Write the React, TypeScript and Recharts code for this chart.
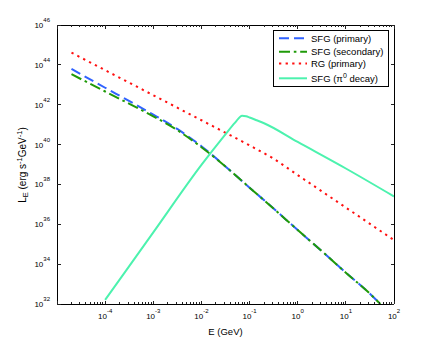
import React from 'react';
import { LineChart, Line, XAxis, YAxis, Legend } from 'recharts';

const W = 436;
const H = 343;
const FONT = '"Liberation Sans", Arial, Helvetica, sans-serif';

// ---- data (E in GeV, L_E in erg s^-1 GeV^-1) ----
const sfgPrimaryE = [2e-5, 1e-4, 3.2e-4, 1e-3, 3.2e-3, 1e-2, 3.2e-2, 0.1, 0.32, 1, 3.2, 10, 32, 52];
const sfgPrimaryL = [6.2e43, 7.1e42, 1.5e42, 3.2e41, 5.9e40, 8.3e39, 7.8e38, 6.9e37, 6.0e36, 5.1e35, 4.4e34, 3.7e33, 3.2e32, 1.0e32];

const sfgSecondaryE = [2e-5, 1e-4, 3.2e-4, 1e-3, 3.2e-3, 1e-2, 3.2e-2, 0.1, 0.32, 1, 3.2, 10, 32, 52];
const sfgSecondaryL = [3.4e43, 4.6e42, 1.1e42, 2.6e41, 5.2e40, 7.4e39, 7.8e38, 6.9e37, 6.0e36, 5.1e35, 4.4e34, 3.7e33, 3.2e32, 1.0e32];

const rgE = [2e-5, 1e-4, 1e-3, 1e-2, 0.1, 0.3, 1, 10, 100];
const rgL = [4.1e44, 5.4e43, 3.0e42, 1.66e41, 9.1e39, 2.1e39, 2.95e38, 6.9e36, 1.6e35];

const piE = [1e-4, 1e-3, 1e-2, 3e-2, 5e-2, 7e-2, 8.5e-2, 0.1, 0.14, 0.2, 1, 10, 100];
const piL = [1.6e32, 3.9e35, 9.5e38, 2.8e40, 1.26e41, 2.82e41, 2.63e41, 2.29e41, 1.66e41, 1.17e41, 1.35e40, 6.3e38, 2.5e37];

const seriesNames = ['SFG (primary)', 'SFG (secondary)', 'RG (primary)', 'SFG (\u03c0'];

// ---- ticks ----
const xDomain = [1e-5, 1e2];
const yDomain = [1e32, 1e46];
const xTicks: number[] = [];
for (let k = -5; k <= 1; k++) {
  for (let m = 1; m <= 9; m++) xTicks.push(m * Math.pow(10, k));
}
xTicks.push(100);
const yTicks = [1e32, 1e34, 1e36, 1e38, 1e40, 1e42, 1e44, 1e46];

const toData = (es: number[], ls: number[]) => es.map((E, i) => ({ E, L: ls[i] }));
const sfgPrimary = toData(sfgPrimaryE, sfgPrimaryL);
const sfgSecondary = toData(sfgSecondaryE, sfgSecondaryL);
const rg = toData(rgE, rgL);
const pi = toData(piE, piL);

const COLORS = {
  blue: '#3062ff',
  green: '#1f9a08',
  red: '#ff1010',
  cyan: '#4cf2ae',
};
const DASH = {
  blue: '10 5',
  green: '11 3.8 2.6 3.8',
  red: '2.3 4.3',
};

const isMajor = (v: number) => {
  const l = Math.log10(v);
  return Math.abs(l - Math.round(l)) < 1e-6;
};
const expOf = (v: number) => String(Math.round(Math.log10(v)));

const MAJ = 3.5;
const MIN = 2;
const TICK_STROKE = '#222';
const AXIS_LINE = { stroke: '#000', strokeWidth: 1, shapeRendering: 'crispEdges' };

const BottomTick = (p: any) => {
  const { x, y, payload } = p;
  const v = payload.value;
  const major = isMajor(v);
  const e = Math.round(Math.log10(v));
  return (
    <g>
      <line x1={x} x2={x} y1={y} y2={y - (major ? MAJ : MIN)} stroke={TICK_STROKE} strokeWidth={1} shapeRendering="crispEdges" />
      {major && e > -5 ? (
        <text x={x} y={y + 15} textAnchor="middle" fontFamily={FONT} fontSize={8} fill="#000">
          <tspan>10</tspan>
          <tspan dy={-6} fontSize={6}>{expOf(v)}</tspan>
        </text>
      ) : null}
    </g>
  );
};

const TopTick = (p: any) => {
  const { x, y, payload } = p;
  const major = isMajor(payload.value);
  return <line x1={x} x2={x} y1={y} y2={y + (major ? MAJ : MIN)} stroke={TICK_STROKE} strokeWidth={1} shapeRendering="crispEdges" />;
};

const LeftTick = (p: any) => {
  const { x, y, payload } = p;
  return (
    <g>
      <line x1={x} x2={x + MAJ} y1={y} y2={y} stroke={TICK_STROKE} strokeWidth={1} shapeRendering="crispEdges" />
      <text x={x - 7} y={y + 3} textAnchor="end" fontFamily={FONT} fontSize={8} fill="#000">
        <tspan>10</tspan>
        <tspan dy={-6} fontSize={6}>{expOf(payload.value)}</tspan>
      </text>
    </g>
  );
};

const RightTick = (p: any) => {
  const { x, y } = p;
  return <line x1={x} x2={x - MAJ} y1={y} y2={y} stroke={TICK_STROKE} strokeWidth={1} shapeRendering="crispEdges" />;
};

const YTitle = (props: any) => {
  const vb = props.viewBox || { x: 0, y: 25, width: 57, height: 279 };
  const cx = vb.x + 25.8;
  const cy = vb.y + vb.height / 2 + 0.5;
  return (
    <text transform={`translate(${cx},${cy}) rotate(-90)`} textAnchor="middle" fontFamily={FONT} fontSize={10} fill="#000">
      <tspan>L</tspan>
      <tspan dy={2.5} fontSize={7.5}>E</tspan>
      <tspan dy={-2.5}> (erg s</tspan>
      <tspan dy={-4} fontSize={7.5}>-1</tspan>
      <tspan dy={4}>GeV</tspan>
      <tspan dy={-4} fontSize={7.5}>-1</tspan>
      <tspan dy={4}>)</tspan>
    </text>
  );
};

const LegendBox = () => {
  const rows = [8.3, 21.7, 33.5, 48.3];
  const styles = [
    { c: COLORS.blue, d: DASH.blue },
    { c: COLORS.green, d: DASH.green },
    { c: COLORS.red, d: DASH.red },
    { c: COLORS.cyan, d: undefined },
  ];
  return (
    <svg width={117} height={58} style={{ display: 'block' }}>
      <rect x={0.5} y={0.5} width={115} height={56} fill="#fff" stroke="#000" strokeWidth={1} />
      {rows.map((ry, i) => (
        <g key={i}>
          <line x1={6} x2={34} y1={ry} y2={ry} stroke={styles[i].c} strokeWidth={2} strokeDasharray={styles[i].d} />
          <text x={38} y={ry + 3.4} fontFamily={FONT} fontSize={9.5} fill="#000">
            {i < 3 ? (
              seriesNames[i]
            ) : (
              <>
                <tspan>{seriesNames[3]}</tspan>
                <tspan dy={-4} fontSize={7}>0</tspan>
                <tspan dy={4}> decay)</tspan>
              </>
            )}
          </text>
        </g>
      ))}
    </svg>
  );
};

export default function App() {
  return (
    <div style={{ position: 'absolute', left: 0, top: 0, width: W, height: H, background: '#fff' }}>
      <LineChart width={W} height={H} margin={{ top: 24, right: 41, bottom: 0, left: 0 }}>
        <XAxis
          xAxisId="b"
          type="number"
          dataKey="E"
          scale="log"
          domain={xDomain}
          allowDataOverflow
          ticks={xTicks}
          interval={0}
          tickSize={0}
          tickMargin={0}
          height={39}
          tick={<BottomTick />}
          axisLine={AXIS_LINE}
          tickLine={false}
          label={{ value: 'E (GeV)', position: 'insideBottom', offset: 8, fontSize: 9.5, fill: '#000', fontFamily: FONT }}
        />
        <XAxis
          xAxisId="t"
          orientation="top"
          type="number"
          dataKey="E"
          scale="log"
          domain={xDomain}
          allowDataOverflow
          ticks={xTicks}
          interval={0}
          tickSize={0}
          tickMargin={0}
          height={1}
          tick={<TopTick />}
          axisLine={AXIS_LINE}
          tickLine={false}
        />
        <YAxis
          yAxisId="l"
          type="number"
          scale="log"
          domain={yDomain}
          allowDataOverflow
          ticks={yTicks}
          interval={0}
          tickSize={0}
          tickMargin={0}
          width={57}
          tick={<LeftTick />}
          axisLine={AXIS_LINE}
          tickLine={false}
          label={{ content: (p: any) => <YTitle {...p} /> }}
        />
        <YAxis
          yAxisId="r"
          orientation="right"
          type="number"
          scale="log"
          domain={yDomain}
          allowDataOverflow
          ticks={yTicks}
          interval={0}
          tickSize={0}
          tickMargin={0}
          width={1}
          tick={<RightTick />}
          axisLine={AXIS_LINE}
          tickLine={false}
        />
        <Line xAxisId="b" yAxisId="l" data={sfgPrimary} dataKey="L" name={seriesNames[0]} type="monotone"
          stroke={COLORS.blue} strokeWidth={2} strokeDasharray={DASH.blue} dot={false} isAnimationActive={false} />
        <Line xAxisId="b" yAxisId="l" data={sfgSecondary} dataKey="L" name={seriesNames[1]} type="monotone"
          stroke={COLORS.green} strokeWidth={2} strokeDasharray={DASH.green} dot={false} isAnimationActive={false} />
        <Line xAxisId="b" yAxisId="l" data={rg} dataKey="L" name={seriesNames[2]} type="monotone"
          stroke={COLORS.red} strokeWidth={2} strokeDasharray={DASH.red} dot={false} isAnimationActive={false} />
        <Line xAxisId="b" yAxisId="l" data={pi} dataKey="L" name="SFG (pi0 decay)" type="monotone"
          stroke={COLORS.cyan} strokeWidth={2} dot={false} isAnimationActive={false} />
        <Legend
          layout="vertical"
          align="center"
          verticalAlign="middle"
          content={() => <LegendBox />}
          wrapperStyle={{ position: 'absolute', left: 273, top: 30, width: 117, height: 58 }}
        />
      </LineChart>
    </div>
  );
}
